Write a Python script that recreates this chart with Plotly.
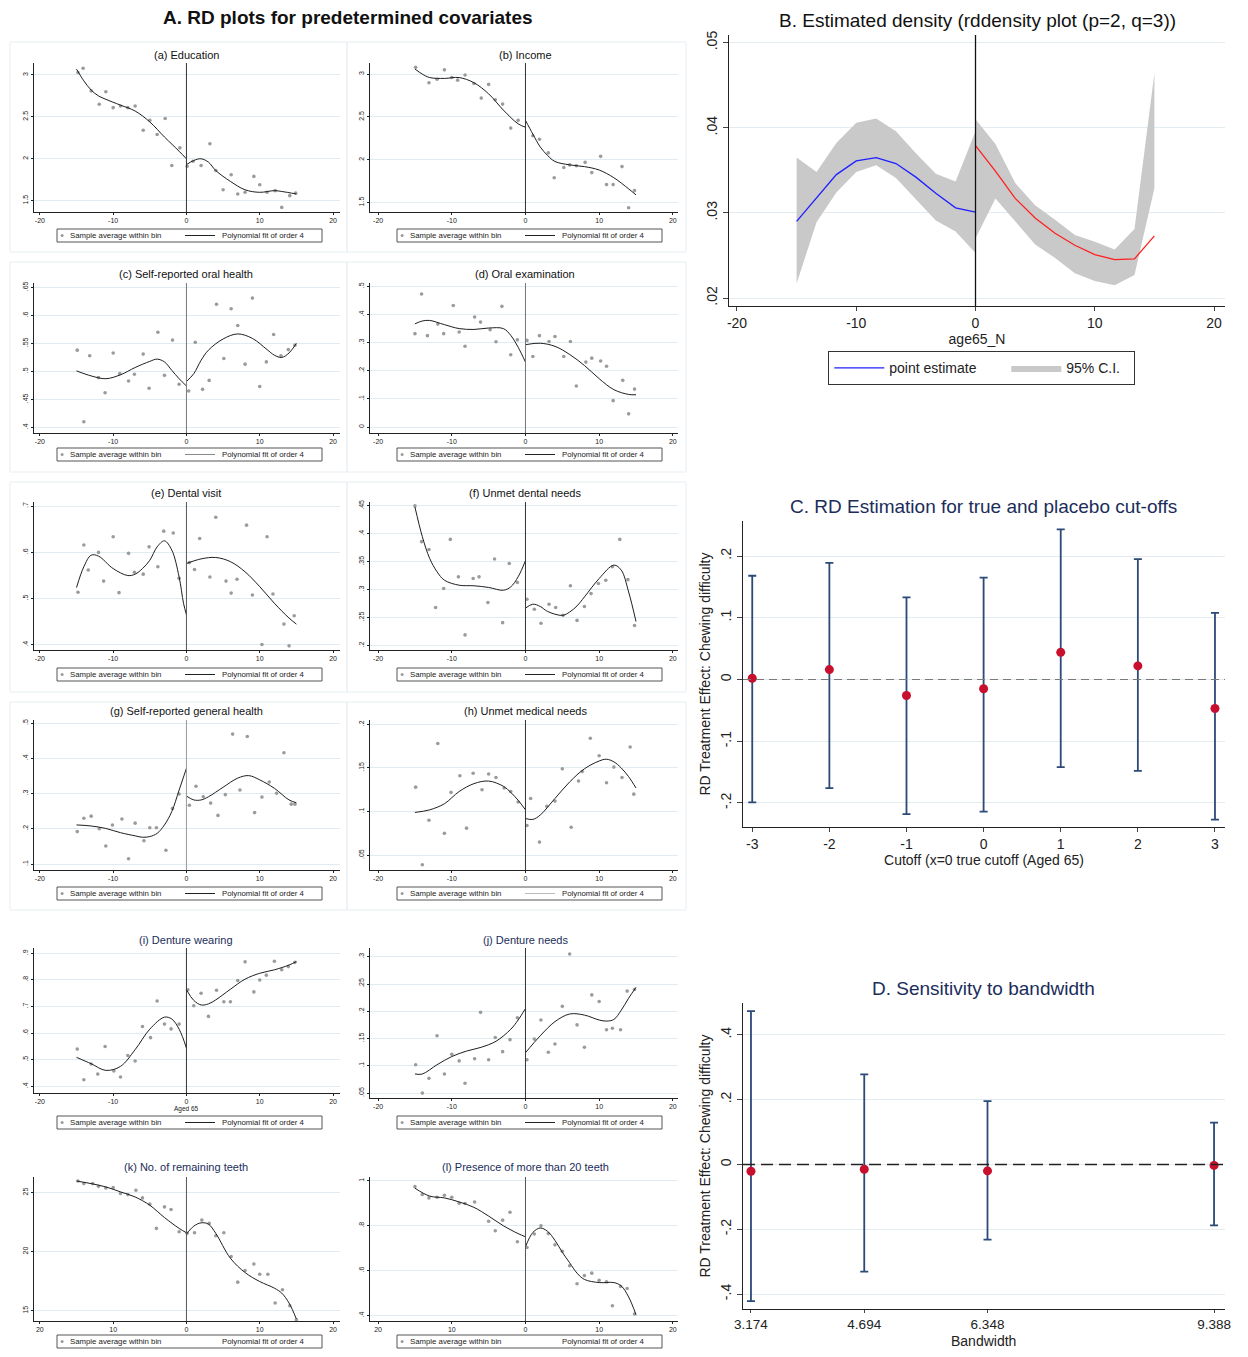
import plotly.graph_objects as go

# ---------------- DATA ----------------
# (a) Education
a_bin_x = [-14.8,-14.1,-13,-11.9,-11,-10,-9,-8,-7,-5.9,-5,-4,-2.9,-2,-0.9, 0.1,0.9,2,3.2,4,5,6.1,7,8,9.2,10,11,12.1,13,14.1,14.9]
a_bin_y = [3.03,3.08,2.81,2.65,2.80,2.61,2.63,2.61,2.63,2.34,2.46,2.29,2.48,1.92,2.13, 1.91,1.97,1.92,2.18,1.86,1.63,1.81,1.58,1.60,1.79,1.69,1.60,1.62,1.42,1.56,1.59]
a_fitL_x = [-15,-14,-13,-12,-11,-9,-7,-5,-3,-1,0]
a_fitL_y = [3.07,2.93,2.82,2.75,2.71,2.64,2.57,2.44,2.26,2.09,2.00]
a_fitR_x = [0,1,2,3,4,6,8,10,12,13,15]
a_fitR_y = [1.93,1.98,2.00,1.96,1.86,1.73,1.63,1.60,1.62,1.61,1.58]
a_yticks = [1.5,2,2.5,3]

# (b) Income
b_bin_x = [-14.9,-13.1,-12,-11,-10,-9.2,-8.2,-7,-6,-5,-4.1,-3.1,-2,-1, 1,1.9,3.1,3.9,5.2,6,6.9,8.1,9,10.2,11,11.9,13.1,14,14.8]
b_bin_y = [3.08,2.90,2.94,3.05,2.96,2.93,2.99,2.89,2.72,2.88,2.70,2.65,2.37,2.46, 2.28,2.24,2.08,1.79,1.91,1.94,1.93,1.97,1.85,2.04,1.71,1.71,1.92,1.44,1.64]
b_fitL_x = [-15,-14,-13,-11,-9,-7,-5,-3,-1,0]
b_fitL_y = [3.06,3.00,2.96,2.95,2.96,2.90,2.77,2.58,2.42,2.38]
b_fitR_x = [0,1,2,3,4,6,8,10,12,14,15]
b_fitR_y = [2.46,2.30,2.15,2.05,1.98,1.94,1.92,1.88,1.79,1.66,1.59]
b_yticks = [1.5,2,2.5,3]

# (c) Self-reported oral health
c_bin_x = [-14.9,-14,-13.2,-12,-11.1,-10,-9.1,-7.9,-7.1,-5.9,-5.1,-3.9,-3,-1.9,-1, 0.3,1.2,2.2,3.1,4.1,5.1,6.1,7,8,9,10,10.9,11.9,12.9,13.9,14.8]
c_bin_y = [.538,.410,.528,.489,.462,.533,.496,.483,.495,.531,.470,.570,.493,.556,.477, .465,.552,.468,.484,.620,.523,.612,.582,.513,.631,.473,.517,.566,.528,.539,.547]
c_fitL_x = [-15,-13,-11,-9,-7,-5,-4,-3,-2,-1,0]
c_fitL_y = [.501,.492,.487,.494,.507,.518,.522,.517,.502,.487,.474]
c_fitR_x = [0,1,2,3,5,7,9,11,12,13,14,15]
c_fitR_y = [.482,.496,.520,.538,.558,.567,.559,.539,.529,.525,.533,.550]
c_yticks = [.4,.45,.5,.55,.6,.65]

# (d) Oral examination
d_bin_x = [-15,-14.1,-13.3,-11.9,-11.1,-9.8,-9,-8.2,-6.9,-6.1,-4.8,-4,-3.2,-2,-1.1, 0.2,1,1.9,3.2,4,5.2,6.1,6.9,8.2,9,10.2,11,11.9,13.2,14,14.8]
d_bin_y = [.332,.473,.325,.366,.332,.432,.338,.287,.391,.373,.346,.303,.429,.257,.310, .308,.251,.325,.304,.322,.251,.304,.146,.231,.245,.235,.216,.094,.166,.047,.135]
d_fitL_x = [-15,-14,-13,-11,-9,-7,-5,-3,-2,-1,0]
d_fitL_y = [.367,.377,.379,.364,.350,.347,.352,.350,.326,.284,.231]
d_fitR_x = [0,2,4,6,8,10,12,14,15]
d_fitR_y = [.293,.298,.287,.258,.219,.172,.133,.116,.115]
d_yticks = [0,.1,.2,.3,.4,.5]

# (e) Dental visit
e_bin_x = [-14.8,-14,-13.4,-12,-11.3,-10,-9.2,-7.9,-7.1,-5.9,-5.1,-3.9,-3.1,-1.8,-1, 0.4,1.1,1.8,3.2,4,5.4,6.1,6.9,8.2,9,10.3,11,11.8,13.3,14,14.7]
e_bin_y = [.514,.616,.562,.600,.538,.634,.513,.598,.557,.553,.612,.569,.646,.642,.544, .578,.563,.630,.547,.676,.538,.512,.542,.659,.508,.401,.634,.510,.445,.398,.463]
e_fitL_x = [-15,-14,-13,-12,-10,-8,-7,-6,-5,-4,-3,-2,-1,-0.4,0]
e_fitL_y = [.524,.569,.594,.592,.565,.550,.553,.565,.583,.612,.625,.605,.547,.490,.465]
e_fitR_x = [0,2,4,6,8,10,12,14,15]
e_fitR_y = [.576,.586,.589,.580,.558,.526,.490,.458,.445]
e_yticks = [.4,.5,.6,.7]

# (f) Unmet dental needs
f_bin_x = [-15,-14.1,-13.1,-12.2,-11.1,-10.2,-9.1,-8.2,-7.1,-6.3,-5.1,-4.2,-3.1,-2.2,-1.1, 0.2,1.2,2.1,3.2,4.1,5.1,6.1,7,8,8.9,9.9,10.9,11.8,12.8,13.9,14.8]
f_bin_y = [.450,.386,.372,.268,.302,.390,.323,.219,.320,.323,.277,.355,.241,.347,.313, .283,.265,.240,.274,.268,.254,.307,.245,.270,.293,.311,.317,.341,.390,.318,.236]
f_fitL_x = [-15,-14,-13,-12,-11,-9,-7,-5,-3,-2,-1,0]
f_fitL_y = [.448,.395,.356,.332,.317,.308,.307,.304,.299,.305,.323,.352]
f_fitR_x = [0,1,2,3,5,6,7,8,10,12,13,14,15]
f_fitR_y = [.267,.274,.270,.261,.254,.260,.271,.287,.320,.344,.335,.296,.243]
f_yticks = [.2,.25,.3,.35,.4,.45]

# (g) Self-reported general health
g_bin_x = [-14.9,-14,-13,-11.9,-11,-10.1,-8.8,-7.9,-7,-5.8,-5,-4.1,-2.8,-1.9,-1, 0.4,1.3,2.3,3.3,4.3,5.3,6.3,7.3,8.3,9.3,10.3,11.3,12.3,13.3,14.3,14.8]
g_bin_y = [.192,.230,.236,.200,.151,.211,.228,.115,.216,.166,.203,.203,.139,.258,.299, .267,.321,.291,.273,.238,.297,.469,.310,.462,.246,.290,.333,.301,.416,.270,.270]
g_fitL_x = [-15,-13,-11,-9,-7,-6,-5,-4,-3,-2,-1,0]
g_fitL_y = [.211,.208,.201,.189,.180,.176,.178,.187,.211,.249,.310,.372]
g_fitR_x = [0,1,2,3,5,7,8.5,10,12,14,15]
g_fitR_y = [.293,.282,.282,.291,.318,.344,.351,.339,.315,.282,.274]
g_yticks = [.1,.2,.3,.4,.5]

# (h) Unmet medical needs
h_bin_x = [-14.9,-14,-13.1,-11.9,-11,-10.1,-8.9,-8,-7.1,-5.9,-5,-4,-2.9,-2,-1, 0.2,0.7,1.9,2.9,4,5,6.2,7.2,7.7,8.8,10,11,12,13.1,14.2,14.7]
h_bin_y = [.128,.039,.090,.178,.075,.122,.141,.081,.144,.125,.143,.139,.127,.123,.111, .084,.115,.065,.106,.112,.149,.082,.135,.146,.184,.164,.133,.151,.139,.174,.120]
h_fitL_x = [-15,-13,-11,-9,-7,-5,-3,-2,-1,0]
h_fitL_y = [.099,.102,.109,.123,.132,.135,.129,.122,.113,.102]
h_fitR_x = [0,1,2,4,6,8,10,11,12,13,14,15]
h_fitR_y = [.092,.091,.096,.115,.134,.149,.158,.160,.157,.150,.140,.127]
h_yticks = [.05,.1,.15,.2]

# (i) Denture wearing
i_bin_x = [-14.9,-14,-13,-12.1,-11.1,-9.9,-9,-8,-7,-6,-4.9,-4,-3,-2.1,-1, 0.2,1,2,3,4.1,5.1,6,7,8,9.2,10,10.9,12,13,13.9,14.8]
i_bin_y = [.540,.425,.484,.446,.550,.458,.435,.516,.495,.625,.583,.721,.634,.616,.634, .763,.703,.750,.663,.761,.718,.718,.798,.868,.755,.800,.818,.870,.838,.850,.866]
i_fitL_x = [-15,-13,-11,-9,-7,-5,-3,-2,-1,0]
i_fitL_y = [.509,.485,.460,.475,.538,.615,.660,.653,.615,.544]
i_fitR_x = [0,1,2,3,4,6,8,10,12,14,15]
i_fitR_y = [.763,.723,.706,.710,.725,.765,.803,.825,.838,.856,.869]
i_yticks = [.4,.5,.6,.7,.8,.9]

# (j) Denture needs
j_bin_x = [-14.9,-14,-13.1,-12,-11,-10,-9,-8.2,-6.9,-6.1,-5,-4.1,-3.1,-2.1,-1.1, 0.2,1.2,2.1,3.1,4,5,6,7,8,9,10,11,11.8,12.9,13.8,14.8]
j_bin_y = [.102,.050,.077,.155,.085,.121,.109,.068,.113,.198,.111,.152,.126,.148,.188, .111,.149,.184,.125,.140,.209,.305,.175,.134,.230,.218,.166,.169,.166,.237,.240]
j_fitL_x = [-15,-14,-12,-10,-8,-6,-4,-2,-1,0]
j_fitL_y = [.085,.085,.102,.117,.127,.134,.145,.167,.184,.205]
j_fitR_x = [0,2,4,6,8,10,11,12,13,14,15]
j_fitR_y = [.124,.155,.181,.195,.193,.184,.182,.185,.202,.224,.244]
j_yticks = [.05,.1,.15,.2,.25,.3]

# (k) No. of remaining teeth
k_bin_x = [-14.8,-14,-12.8,-12,-11,-10,-9,-8,-6.9,-6,-5,-4.1,-3,-2.1,-1, 0.1,1.1,2.1,3.1,4,5.1,6.1,7,8,9.2,10,11.1,12.1,13.1,14.1,15]
k_bin_y = [25.98,25.76,25.76,25.53,25.39,25.42,24.92,24.83,25.2,24.55,24.02,21.97,23.79,23.57,21.69, 21.55,21.6,22.67,22.39,21.35,21.6,19.58,17.42,18.4,18.96,18.09,18.09,15.65,16.77,15.42,14.24]
k_fitL_x = [-15,-13,-11,-9,-7,-5,-3,-1,0]
k_fitL_y = [25.98,25.76,25.48,25.06,24.63,23.93,22.89,21.97,21.60]
k_fitR_x = [0,1,2,3,4,6,8,10,12,13,14,15]
k_fitR_y = [21.49,22.16,22.44,22.33,21.55,19.44,18.23,17.47,16.91,16.49,15.65,14.3]
k_yticks = [15,20,25]

# (l) Presence of more than 20 teeth
l_bin_x = [-15,-14,-13.1,-12,-11,-10,-9,-8.2,-6.9,-5,-4.1,-3.1,-2.1,-1.1, 0.2,1.2,2.1,3.1,4,5,6,7,8,9,10,11,11.8,12.9,13.8,14.8]
l_bin_y = [.974,.939,.924,.927,.936,.927,.900,.899,.906,.820,.778,.825,.860,.729, .703,.763,.800,.765,.715,.686,.622,.542,.578,.589,.557,.550,.444,.530,.521,.407]
l_fitL_x = [-15,-13,-11,-9,-7,-5,-3,-1,0]
l_fitL_y = [.967,.932,.924,.906,.882,.843,.800,.765,.751]
l_fitR_x = [0,1,2,3,4,5,6,7,8,10,12,13,14,15]
l_fitR_y = [.706,.770,.790,.775,.735,.682,.635,.589,.561,.547,.547,.532,.483,.404]
l_yticks = [.4,.6,.8,1]

small_xticks = [-20, -10, 0, 10, 20]
small_xlabels_signed = ["-20", "-10", "0", "10", "20"]
small_xlabels_abs = ["20", "10", "0", "10", "20"]

# B. density
B_xL = [-15,-13.33,-11.67,-10,-8.33,-6.67,-5,-3.33,-1.67,0]
B_fL = [.0290,.0318,.0345,.0361,.0365,.0358,.0342,.0323,.0306,.0301]
B_loL = [.0217,.0289,.0324,.0348,.0356,.0341,.0316,.0291,.0278,.0253]
B_hiL = [.0365,.0348,.0382,.0406,.0411,.0396,.0370,.0346,.0337,.0396]
B_xR = [0,1.67,3.33,5,6.67,8.33,10,11.67,13.33,15]
B_fR = [.0379,.0349,.0317,.0294,.0276,.0262,.0251,.0245,.0246,.0273]
B_loR = [.0270,.0317,.0290,.0263,.0247,.0229,.0220,.0215,.0227,.0329]
B_hiR = [.0410,.0381,.0335,.0309,.0292,.0274,.0266,.0257,.0281,.0464]
B_xticks = [-20, -10, 0, 10, 20]
B_yticks = [.02, .03, .04, .05]

# C. placebo cut-offs
C_cut = [-3, -2, -1, 0, 1, 2, 3]
C_est = [0.002, 0.016, -0.026, -0.015, 0.044, 0.022, -0.047]
C_lo = [-0.199, -0.176, -0.218, -0.214, -0.142, -0.148, -0.227]
C_hi = [0.168, 0.189, 0.133, 0.165, 0.243, 0.195, 0.108]
C_yticks = [-.2, -.1, 0, .1, .2]

# D. bandwidth sensitivity
D_bw = [3.174, 4.694, 6.348, 9.388]
D_est = [-0.021, -0.015, -0.020, -0.003]
D_lo = [-0.422, -0.331, -0.232, -0.188]
D_hi = [0.473, 0.278, 0.195, 0.129]
D_yticks = [-.4, -.2, 0, .2, .4]

# ---------------- LAYOUT HELPERS ----------------
VW, VH = 1248, 1357      # browser window
BM = 8                   # default body margin of the page
W, H = VW - 2 * BM, VH - 2 * BM
FONT = "Liberation Sans, Arial, sans-serif"
NAVY_T = "#1b2d5a"
GRID = "#e2ecf0"


def fx(p):
    return (p - BM) / W


def fy(p):
    return 1 - (p - BM) / H


def sfmt(v):
    s = "%g" % v
    if s.startswith("0."):
        s = s[1:]
    elif s.startswith("-0."):
        s = "-" + s[2:]
    return s


def ax(n):
    return "" if n == 1 else str(n)


# panel table
PANELS = [
    ("a", "(a) Education", a_bin_x, a_bin_y, a_fitL_x, a_fitL_y, a_fitR_x, a_fitR_y, a_yticks, "L", (63, 212), (1.365, 3.143), small_xlabels_signed, "#111", "#333", 55, 229, "#222"),
    ("b", "(b) Income", b_bin_x, b_bin_y, b_fitL_x, b_fitL_y, b_fitR_x, b_fitR_y, b_yticks, "R", (63, 212), (1.39, 3.13), small_xlabels_signed, "#111", "#333", 55, 229, "#222"),
    ("c", "(c) Self-reported oral health", c_bin_x, c_bin_y, c_fitL_x, c_fitL_y, c_fitR_x, c_fitR_y, c_yticks, "L", (283, 433), (.390, .658), small_xlabels_signed, "#111", "#777", 274, 448, "#888"),
    ("d", "(d) Oral examination", d_bin_x, d_bin_y, d_fitL_x, d_fitL_y, d_fitR_x, d_fitR_y, d_yticks, "R", (283, 433), (-.021, .512), small_xlabels_signed, "#111", "#777", 274, 448, "#222"),
    ("e", "(e) Dental visit", e_bin_x, e_bin_y, e_fitL_x, e_fitL_y, e_fitR_x, e_fitR_y, e_yticks, "L", (502, 650), (.389, .709), small_xlabels_signed, "#111", "#555", 493, 668, "#222"),
    ("f", "(f) Unmet dental needs", f_bin_x, f_bin_y, f_fitL_x, f_fitL_y, f_fitR_x, f_fitR_y, f_yticks, "R", (502, 650), (.192, .457), small_xlabels_signed, "#111", "#333", 493, 668, "#222"),
    ("g", "(g) Self-reported general health", g_bin_x, g_bin_y, g_fitL_x, g_fitL_y, g_fitR_x, g_fitR_y, g_yticks, "L", (720, 870), (.083, .509), small_xlabels_signed, "#111", "#999", 711, 887, "#222"),
    ("h", "(h) Unmet medical needs", h_bin_x, h_bin_y, h_fitL_x, h_fitL_y, h_fitR_x, h_fitR_y, h_yticks, "R", (720, 870), (.033, .205), small_xlabels_signed, "#111", "#333", 711, 887, "#bbb"),
    ("i", "(i) Denture wearing", i_bin_x, i_bin_y, i_fitL_x, i_fitL_y, i_fitR_x, i_fitR_y, i_yticks, "L", (948, 1093), (.375, .920), small_xlabels_signed, NAVY_T, "#333", 940, 1116, "#222"),
    ("j", "(j) Denture needs", j_bin_x, j_bin_y, j_fitL_x, j_fitL_y, j_fitR_x, j_fitR_y, j_yticks, "R", (948, 1098), (.041, .316), small_xlabels_signed, NAVY_T, "#333", 940, 1116, "#222"),
    ("k", "(k) No. of remaining teeth", k_bin_x, k_bin_y, k_fitL_x, k_fitL_y, k_fitR_x, k_fitR_y, k_yticks, "L", (1177, 1321), (14.13, 26.32), small_xlabels_abs, NAVY_T, "#555", 1167, 1335, None),
    ("l", "(l) Presence of more than 20 teeth", l_bin_x, l_bin_y, l_fitL_x, l_fitL_y, l_fitR_x, l_fitR_y, l_yticks, "R", (1177, 1321), (.376, 1.017), small_xlabels_abs, NAVY_T, "#555", 1167, 1335, None),
]
COLS = {"L": ((34, 340), (-20.8, 20.95), 57), "R": ((370, 678), (-21.1, 20.7), 397)}

fig = go.Figure()
layout = dict(
    width=W, height=H, margin=dict(l=0, r=0, t=0, b=0, autoexpand=False),
    paper_bgcolor="white", plot_bgcolor="white",
    font=dict(family=FONT, color="#111"), showlegend=True,
)
shapes, annotations = [], []

# faint panel frames for (a)-(h)
for (x0, x1) in [(10, 347), (347, 686)]:
    for (y0, y1) in [(42, 252), (262, 472), (482, 692), (702, 910)]:
        shapes.append(dict(type="rect", xref="paper", yref="paper", x0=fx(x0), x1=fx(x1),
                           y0=fy(y1), y1=fy(y0), line=dict(color="#e9eff2", width=1), layer="below"))


def small_legend(lx, ly, line_col):
    """Stata-style legend box drawn under each small RD plot."""
    mid = ly + 6.5
    shapes.append(dict(type="rect", xref="paper", yref="paper", x0=fx(lx), x1=fx(lx + 265),
                       y0=fy(ly + 13), y1=fy(ly), line=dict(color="#555", width=1), fillcolor="white"))
    shapes.append(dict(type="circle", xref="paper", yref="paper", x0=fx(lx + 3.6), x1=fx(lx + 6.6),
                       y0=fy(mid + 1.5), y1=fy(mid - 1.5), line=dict(width=0), fillcolor="#9b9b9b"))
    if line_col:
        shapes.append(dict(type="line", xref="paper", yref="paper", x0=fx(lx + 128), x1=fx(lx + 158),
                           y0=fy(mid), y1=fy(mid), line=dict(color=line_col, width=1)))
    annotations.append(dict(text="Sample average within bin", xref="paper", yref="paper",
                            x=fx(lx + 11), y=fy(mid), xanchor="left", yanchor="middle", showarrow=False,
                            font=dict(size=7.8, family=FONT, color="#222")))
    annotations.append(dict(text="Polynomial fit of order 4", xref="paper", yref="paper",
                            x=fx(lx + 163), y=fy(mid), xanchor="left", yanchor="middle", showarrow=False,
                            font=dict(size=7.8, family=FONT, color="#222")))


for n, p in enumerate(PANELS, start=1):
    (pid, title, bx, by, flx, fly, frx, fry, yt, col, (ptop, pbot), yr, xlabs,
     tcol, ccol, title_y, leg_y, leg_line) = p
    (dx0, dx1), xr, leg_x = COLS[col]
    xa, ya = "x" + ax(n), "y" + ax(n)
    fig.add_trace(go.Scatter(x=bx, y=by, mode="markers", xaxis=xa, yaxis=ya,
                             marker=dict(size=3.6, color="#9b9b9b"),
                             name="Sample average within bin", showlegend=False))
    fig.add_trace(go.Scatter(x=flx, y=fly, mode="lines", xaxis=xa, yaxis=ya,
                             line=dict(color="#1e1e1e", width=1, shape="spline", smoothing=1.0),
                             name="Polynomial fit of order 4", showlegend=False))
    fig.add_trace(go.Scatter(x=frx, y=fry, mode="lines", xaxis=xa, yaxis=ya,
                             line=dict(color="#1e1e1e", width=1, shape="spline", smoothing=1.0),
                             name="Polynomial fit of order 4", showlegend=False))
    layout["xaxis" + ax(n)] = dict(
        domain=[fx(dx0), fx(dx1)], range=list(xr), anchor=ya,
        tickmode="array", tickvals=small_xticks, ticktext=xlabs,
        showline=True, linecolor="#222", linewidth=1, ticks="outside", ticklen=2,
        tickcolor="#222", tickfont=dict(size=7, color="#222"), showgrid=False, zeroline=False)
    layout["yaxis" + ax(n)] = dict(
        domain=[fy(pbot), fy(ptop)], range=list(yr), anchor=xa,
        tickmode="array", tickvals=yt, ticktext=[sfmt(v) for v in yt], tickangle=-90,
        showline=True, linecolor="#222", linewidth=1, ticks="outside", ticklen=2,
        tickcolor="#222", tickfont=dict(size=7, color="#222"),
        showgrid=True, gridcolor=GRID, gridwidth=1, zeroline=False)
    shapes.append(dict(type="line", xref=xa, yref=ya + " domain", x0=0, x1=0, y0=0, y1=1,
                       line=dict(color=ccol, width=1)))
    annotations.append(dict(text=title, xref=xa, yref="paper", x=0, y=fy(title_y),
                            xanchor="center", yanchor="middle", showarrow=False,
                            font=dict(size=11, family=FONT, color=tcol)))
    small_legend(leg_x, leg_y, leg_line)
    if pid == "i":
        annotations.append(dict(text="Aged 65", xref=xa, yref="paper", x=0, y=fy(1109),
                                xanchor="center", yanchor="middle", showarrow=False,
                                font=dict(size=6.5, family=FONT, color="#222")))

annotations.append(dict(text="<b>A. RD plots for predetermined covariates</b>", xref="paper", yref="paper",
                        x=fx(348), y=fy(18), xanchor="center", yanchor="middle", showarrow=False,
                        font=dict(size=19, family=FONT, color="#111")))

# ---------------- B. density ----------------
xa, ya = "x13", "y13"
for k, (xs, lo, hi) in enumerate([(B_xL, B_loL, B_hiL), (B_xR, B_loR, B_hiR)]):
    fig.add_trace(go.Scatter(x=xs + xs[::-1], y=hi + lo[::-1], mode="lines", fill="toself",
                             fillcolor="#c9c9c9", line=dict(width=0, color="rgba(0,0,0,0)"),
                             xaxis=xa, yaxis=ya, legend="legend", name="95% C.I.",
                             showlegend=(k == 0), legendrank=2, legendwidth=62, hoverinfo="skip"))
fig.add_trace(go.Scatter(x=B_xL, y=B_fL, mode="lines", line=dict(color="#1f1fff", width=1.3),
                         xaxis=xa, yaxis=ya, legend="legend", name="point estimate",
                         showlegend=True, legendrank=1, legendwidth=112))
fig.add_trace(go.Scatter(x=B_xR, y=B_fR, mode="lines", line=dict(color="#ff2020", width=1.3),
                         xaxis=xa, yaxis=ya, legend="legend", name="point estimate (right)",
                         showlegend=False))
layout["xaxis13"] = dict(domain=[fx(729), fx(1225)], range=[-20.67, 20.92], anchor=ya,
                         tickmode="array", tickvals=B_xticks, ticktext=[str(v) for v in B_xticks],
                         showline=True, linecolor="#222", linewidth=1.2, ticks="outside", ticklen=4,
                         tickfont=dict(size=14, color="#222"), showgrid=False, zeroline=False,
                         title=dict(text="age65_N", font=dict(size=14, color="#222"), standoff=3))
layout["yaxis13"] = dict(domain=[fy(306), fy(35)], range=[.01906, .0509], anchor=xa,
                         tickmode="array", tickvals=B_yticks, ticktext=[sfmt(v) for v in B_yticks],
                         tickangle=-90, showline=True, linecolor="#222", linewidth=1.2,
                         ticks="outside", ticklen=5, tickfont=dict(size=14, color="#222"),
                         showgrid=True, gridcolor=GRID, zeroline=False)
layout["legend"] = dict(x=fx(828), y=fy(351), xanchor="left", yanchor="top", orientation="h",
                        bgcolor="white", bordercolor="#333", borderwidth=1.3,
                        font=dict(size=14, family=FONT, color="#222"), itemwidth=50,
                        tracegroupgap=0, valign="middle")
shapes.append(dict(type="line", xref=xa, yref="y13 domain", x0=0, x1=0, y0=0, y1=1,
                   line=dict(color="#111", width=1.3)))
annotations.append(dict(text="B. Estimated density (rddensity plot (p=2, q=3))", xref="paper", yref="paper",
                        x=fx(977), y=fy(20), xanchor="center", yanchor="middle", showarrow=False,
                        font=dict(size=19, family=FONT, color="#111")))

# ---------------- C. placebo ----------------
ERR = "#2b4a78"
DOT = "#c8102e"
shapes.append(dict(type="line", xref="x14 domain", yref="y14", x0=0, x1=1, y0=0, y1=0,
                   line=dict(color="#7a7a7a", width=1.2, dash="8px,5px"), layer="above"))
fig.add_trace(go.Scatter(x=C_cut, y=C_est, mode="markers", xaxis="x14", yaxis="y14",
                         marker=dict(size=9, color=DOT), showlegend=False, name="RD estimate",
                         error_y=dict(type="data", symmetric=False,
                                      array=[h - e for h, e in zip(C_hi, C_est)],
                                      arrayminus=[e - l for e, l in zip(C_est, C_lo)],
                                      color=ERR, thickness=1.8, width=4)))
layout["xaxis14"] = dict(domain=[fx(743), fx(1225)], range=[-3.12, 3.13], anchor="y14",
                         tickmode="array", tickvals=C_cut, ticktext=[str(v) for v in C_cut],
                         showline=True, linecolor="#222", linewidth=1.2, ticks="outside", ticklen=4,
                         tickfont=dict(size=14, color="#222"), showgrid=False, zeroline=False,
                         title=dict(text="Cutoff (x=0 true cutoff (Aged 65)", font=dict(size=14, color="#222"), standoff=1))
layout["yaxis14"] = dict(domain=[fy(827), fy(521)], range=[-.2389, .2567], anchor="x14",
                         tickmode="array", tickvals=C_yticks, ticktext=[sfmt(v) for v in C_yticks],
                         tickangle=-90, showline=True, linecolor="#222", linewidth=1.2,
                         ticks="outside", ticklen=5, tickfont=dict(size=14, color="#222"),
                         showgrid=True, gridcolor=GRID, zeroline=False,
                         title=dict(text="RD Treatment Effect: Chewing difficulty", font=dict(size=14, color="#222"), standoff=4))
annotations.append(dict(text="C. RD Estimation for true and placebo cut-offs", xref="paper", yref="paper",
                        x=fx(983), y=fy(506), xanchor="center", yanchor="middle", showarrow=False,
                        font=dict(size=19, family=FONT, color=NAVY_T)))

# ---------------- D. bandwidth ----------------
shapes.append(dict(type="line", xref="x15 domain", yref="y15", x0=0, x1=1, y0=0, y1=0,
                   line=dict(color="#222", width=1.6, dash="12px,6px"), layer="above"))
fig.add_trace(go.Scatter(x=D_bw, y=D_est, mode="markers", xaxis="x15", yaxis="y15",
                         marker=dict(size=9, color=DOT), showlegend=False, name="RD estimate (bandwidth)",
                         error_y=dict(type="data", symmetric=False,
                                      array=[h - e for h, e in zip(D_hi, D_est)],
                                      arrayminus=[e - l for e, l in zip(D_est, D_lo)],
                                      color=ERR, thickness=1.8, width=4)))
layout["xaxis15"] = dict(domain=[fx(743), fx(1225)], range=[3.067, 9.535], anchor="y15",
                         tickmode="array", tickvals=D_bw, ticktext=["%.3f" % v for v in D_bw],
                         showline=True, linecolor="#222", linewidth=1.2, ticks="outside", ticklen=3,
                         tickfont=dict(size=13.5, color="#222"), showgrid=False, zeroline=False)
layout["yaxis15"] = dict(domain=[fy(1309), fy(1003)], range=[-.446, .498], anchor="x15",
                         tickmode="array", tickvals=D_yticks, ticktext=[sfmt(v) for v in D_yticks],
                         tickangle=-90, showline=True, linecolor="#222", linewidth=1.2,
                         ticks="outside", ticklen=5, tickfont=dict(size=14, color="#222"),
                         showgrid=True, gridcolor=GRID, zeroline=False,
                         title=dict(text="RD Treatment Effect: Chewing difficulty", font=dict(size=14, color="#222"), standoff=4))
annotations.append(dict(text="Bandwidth", xref="paper", yref="paper", x=fx(983), y=fy(1341),
                        xanchor="center", yanchor="middle", showarrow=False,
                        font=dict(size=14, family=FONT, color="#222")))
annotations.append(dict(text="D. Sensitivity to bandwidth", xref="paper", yref="paper",
                        x=fx(983), y=fy(988), xanchor="center", yanchor="middle", showarrow=False,
                        font=dict(size=19, family=FONT, color=NAVY_T)))

layout["shapes"] = shapes
layout["annotations"] = annotations
fig.update_layout(**layout)

fig.write_html("out.html", include_plotlyjs=True, config={"displayModeBar": False})
